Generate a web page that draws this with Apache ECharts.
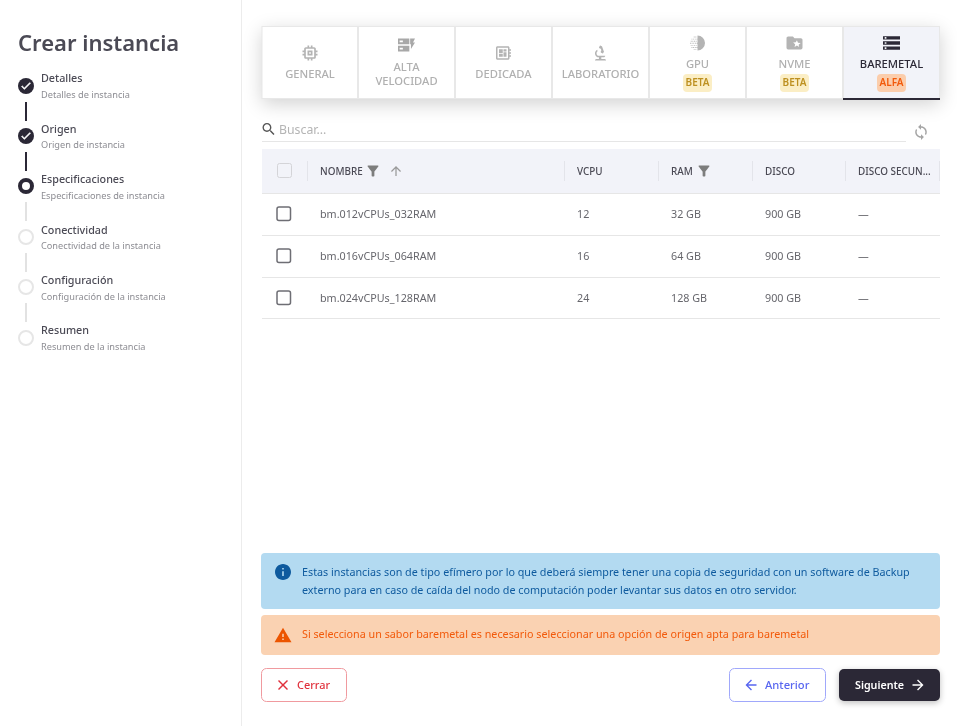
<!DOCTYPE html>
<html lang="es">
<head>
<meta charset="UTF-8">
<title>Crear instancia</title>
<script src="https://cdn.jsdelivr.net/npm/echarts@6/dist/echarts.min.js"></script>
<style>
html,body{margin:0;padding:0;background:#fff}
#main{width:957px;height:726px}
</style>
</head>
<body>
<div id="main"></div>
<script>
var stepTitles = ['Detalles', 'Origen', 'Especificaciones', 'Conectividad', 'Configuración', 'Resumen'];
var stepSubs = ['Detalles de instancia', 'Origen de instancia', 'Especificaciones de instancia', 'Conectividad de la instancia', 'Configuración de la instancia', 'Resumen de la instancia'];
var stepStates = ['done', 'done', 'current', 'todo', 'todo', 'todo'];
var tabLabels = [['GENERAL'], ['ALTA', 'VELOCIDAD'], ['DEDICADA'], ['LABORATORIO'], ['GPU'], ['NVME'], ['BAREMETAL']];
var tabBadges = ['', '', '', '', 'BETA', 'BETA', 'ALFA'];
var columns = ['NOMBRE', 'VCPU', 'RAM', 'DISCO', 'DISCO SECUN...'];
var flavors = ['bm.012vCPUs_032RAM', 'bm.016vCPUs_064RAM', 'bm.024vCPUs_128RAM'];
var vcpus = ['12', '16', '24'];
var rams = ['32 GB', '64 GB', '128 GB'];
var discos = ['900 GB', '900 GB', '900 GB'];
var secundarios = ['—', '—', '—'];
var infoLines = ['Estas instancias son de tipo efímero por lo que deberá siempre tener una copia de seguridad con un software de Backup', 'externo para en caso de caída del nodo de computación poder levantar sus datos en otro servidor.'];
var warnText = 'Si selecciona un sabor baremetal es necesario seleccionar una opción de origen apta para baremetal';

var FONT = '"Noto Sans"';
var DARK = '#2b2836';

var P = {
    check: 'M9 16.17L4.83 12l-1.42 1.41L9 19 21 7l-1.41-1.41z',
    chip: 'M15 9H9v6h6V9zm-2 4h-2v-2h2v2zm8-2V9h-2V7c0-1.1-.9-2-2-2h-2V3h-2v2h-2V3H9v2H7c-1.1 0-2 .9-2 2v2H3v2h2v2H3v2h2v2c0 1.1.9 2 2 2h2v2h2v-2h2v2h2v-2h2c1.1 0 2-.9 2-2v-2h2v-2h-2v-2h2zm-4 6H7V7h10v10z',
    fast: 'M2 4h14v7H2z M4 6.5v2h4v-2z M2 13h14v7H2z M4 15.5v2h4v-2z M17 4h6l-2.5 5h2.5l-5 8v-6h-1z',
    board: 'M22 9V7h-2V5c0-1.1-.9-2-2-2H4c-1.1 0-2 .9-2 2v14c0 1.1.9 2 2 2h14c1.1 0 2-.9 2-2v-2h2v-2h-2v-2h2v-2h-2V9h2zm-4 10H4V5h14v14zM6 13h5v4H6zm6-6h4v3h-4zM6 7h5v5H6zm6 4h4v6h-4z',
    lab: 'M7 19c-1.1 0-2 .9-2 2h14c0-1.1-.9-2-2-2h-4v-2h3c1.1 0 2-.9 2-2h-8c-1.66 0-3-1.34-3-3 0-1.09.59-2.04 1.46-2.56C8.17 9.03 8 8.54 8 8c0-.21.04-.42.09-.62C6.28 8.13 5 9.92 5 12c0 2.76 2.24 5 5 5v2H7z M10.56 5.51C11.91 5.54 13 6.64 13 8c0 .75-.33 1.41-.85 1.87l.59 1.62.94-.34.34.94 1.88-.68-.34-.94.94-.34-2.74-7.52-.94.34-.34-.94-1.88.68.34.94-.94.35.56 1.53z',
    folder: 'M20 6h-8l-2-2H4c-1.1 0-1.99.9-1.99 2L2 18c0 1.1.9 2 2 2h16c1.1 0 2-.9 2-2V8c0-1.1-.9-2-2-2zm-2.06 11L15 15.28 12.06 17l.78-3.33-2.59-2.24 3.41-.29L15 8.5l1.34 3.13 3.41.29-2.59 2.24.78 3.34z',
    storage: 'M2 20h20v-4H2v4zm2-3h2v2H4v-2zM2 4v4h20V4H2zm4 3H4V5h2v2zm-4 7h20v-4H2v4zm2-3h2v2H4v-2z',
    search: 'M15.5 14h-.79l-.28-.27C15.41 12.59 16 11.11 16 9.5 16 5.91 13.09 3 9.5 3S3 5.91 3 9.5 5.91 16 9.5 16c1.61 0 3.09-.59 4.23-1.57l.27.28v.79l5 4.99L20.49 19l-4.99-5zm-6 0C7.01 14 5 11.99 5 9.5S7.01 5 9.5 5 14 7.01 14 9.5 11.99 14 9.5 14z',
    filter: 'M4.25 5.61C6.27 8.2 10 13 10 13v6c0 .55.45 1 1 1h2c.55 0 1-.45 1-1v-6s3.72-4.8 5.74-7.39c.51-.66.04-1.61-.79-1.61H5.04c-.83 0-1.3.95-.79 1.61z',
    up: 'M4 12l1.41 1.41L11 7.83V20h2V7.83l5.58 5.59L20 12l-8-8-8 8z',
    back: 'M20 11H7.83l5.59-5.59L12 4l-8 8 8 8 1.41-1.41L7.83 13H20v-2z',
    forward: 'M12 4l-1.41 1.41L16.17 11H4v2h12.17l-5.58 5.59L12 20l8-8z',
    close: 'M19 6.41L17.59 5 12 10.59 6.41 5 5 6.41 10.59 12 5 17.59 6.41 19 12 13.41 17.59 19 19 17.59 13.41 12z',
    info: 'M12 2C6.48 2 2 6.48 2 12s4.48 10 10 10 10-4.48 10-10S17.52 2 12 2zm1 15h-2v-6h2v6zm0-8h-2V7h2v2z',
    warn: 'M1 21h22L12 2 1 21zm12-3h-2v-2h2v2zm0-4h-2v-4h2v4z',
    sync: 'M12 4V1L8 5l4 4V6c3.31 0 6 2.69 6 6 0 1.01-.25 1.97-.7 2.8l1.46 1.46C19.54 15.03 20 13.57 20 12c0-4.42-3.58-8-8-8zm0 14c-3.31 0-6-2.69-6-6 0-1.01.25-1.97.7-2.8L5.24 7.74C4.46 8.97 4 10.43 4 12c0 4.42 3.58 8 8 8v3l4-4-4-4v3z'
};

// media luna del icono GPU con puntitos a la izquierda
function gpuPath() {
    var d = 'M12 2a10 10 0 0 1 0 20z';
    var rows = [7, 4, 3, 2, 3, 4, 7];
    for (var r = 0; r < rows.length; r++) {
        for (var x = rows[r]; x < 11; x += 2.2) {
            var y = 3.4 + r * 2.8;
            d += ' M' + x + ' ' + y + 'h1.2v1.2h-1.2z';
        }
    }
    return d;
}

var g = [];
var icons = [];

function txt(x, y, s, size, color, weight, align) {
    g.push({ type: 'text', x: x, y: y + 1, silent: true, style: {
        text: s, font: (weight || 400) + ' ' + size + 'px ' + FONT, fill: color,
        textAlign: align || 'left', textVerticalAlign: 'middle'
    }});
}
function box(x, y, w, h, fill, stroke, r, extra) {
    var style = { fill: fill || 'none', stroke: stroke || 'none', lineWidth: stroke ? 1 : 0 };
    for (var k in (extra || {})) style[k] = extra[k];
    g.push({ type: 'rect', silent: true, shape: { x: x, y: y, width: w, height: h, r: r || 0 }, style: style });
}
// los iconos van en una serie custom porque graphic no acepta pathData
function icon(d, cx, cy, size, color, heavy) {
    icons.push({ d: d, cx: cx, cy: cy, size: size, color: color, heavy: heavy || 0 });
}

// ---- panel izquierdo
box(241, 0, 1, 726, '#ececec');
txt(18, 43.5, 'Crear instancia', 22, '#4b4a55', 600);

var stepY = [86, 136, 186, 237, 287, 338];
var titleY = [78, 129, 179, 230, 280, 330];
var subY = [95, 145, 196, 246, 297, 347];
var lineTop = [102, 152, 202, 253, 303];
for (var i = 0; i < stepTitles.length; i++) {
    if (i < lineTop.length) {
        box(25, lineTop[i], 2, 19, i < 2 ? DARK : '#e2e2e2');
    }
    var st = stepStates[i];
    if (st === 'done') {
        g.push({ type: 'circle', silent: true, shape: { cx: 26, cy: stepY[i], r: 8 }, style: { fill: DARK } });
        icon(P.check, 26, stepY[i], 9, '#fff', 0.6);
    } else if (st === 'current') {
        g.push({ type: 'circle', silent: true, shape: { cx: 26, cy: stepY[i], r: 6 }, style: { fill: '#fff', stroke: DARK, lineWidth: 4 } });
    } else {
        g.push({ type: 'circle', silent: true, shape: { cx: 26, cy: stepY[i], r: 7 }, style: { fill: '#fff', stroke: '#e6e6e6', lineWidth: 2 } });
    }
    txt(41, titleY[i], stepTitles[i], 10.75, '#4b4a55', 500);
    txt(41, subY[i] - 0.5, stepSubs[i], 9.2, '#8d8d93');
}

// ---- pestañas
var tabX = [262, 358, 455, 552, 649, 746, 843, 940];
var tabIcons = [P.chip, P.fast, P.board, P.lab, gpuPath(), P.folder, P.storage];
var iconSize = [15, 17, 15, 15, 15, 16, 17];
box(262, 26, 678, 73, '#fff', null, 0, { shadowBlur: 18, shadowColor: 'rgba(0,0,0,0.18)', shadowOffsetY: 5 });
box(843, 26, 97, 73, '#f2f3f9');
box(262, 26, 678, 1, '#e8e8e8');
box(261.5, 26, 1, 73, '#e8e8e8');
box(939, 26, 1, 73, '#e8e8e8');
box(262, 98, 581, 1, '#e8e8e8');
for (var t = 0; t < tabLabels.length; t++) {
    if (t > 0) box(tabX[t] - 1, 26, 2, 73, '#e8e8e8');
    var cx = (tabX[t] + tabX[t + 1]) / 2;
    var active = t === tabLabels.length - 1;
    var col = active ? DARK : '#b0b0b0';
    var lbl = tabLabels[t];
    if (tabBadges[t]) {
        icon(tabIcons[t], cx, 43, iconSize[t], active ? DARK : '#b4b4b4');
        txt(cx, 64, lbl[0], 11.2, col, 500, 'center');
        var alfa = tabBadges[t] === 'ALFA';
        box(cx - 14.5, 74, 29, 18, alfa ? '#fbcdac' : '#fbeec5', null, 4);
        txt(cx, 82.5, tabBadges[t], 10, alfa ? '#f2590a' : '#bd9020', 600, 'center');
    } else if (lbl.length === 2) {
        icon(tabIcons[t], cx, 45, iconSize[t], '#a8a8a8');
        txt(cx, 67, lbl[0], 11.2, col, 500, 'center');
        txt(cx, 81, lbl[1], 11.2, col, 500, 'center');
    } else {
        icon(tabIcons[t], cx, 53, iconSize[t], '#b4b4b4');
        txt(cx, 74, lbl[0], 11.2, col, 500, 'center');
    }
}
box(843, 98, 97, 2, DARK);

// ---- buscador
icon(P.search, 268.5, 129, 12, '#555');
txt(279, 129, 'Buscar...', 12.3, '#b4b4b4');
box(262, 141, 644, 1, '#e6e6e6');
icon(P.sync, 921, 132, 16, '#a5a5a5');

// ---- tabla
var colText = [320, 577, 671, 765, 858];
var colSep = [307, 564, 658, 752, 845, 939];
var rowY = [214, 256, 298];
var rowLine = [235, 277, 318];
box(262, 149, 678, 44, '#f2f3f9');
box(262, 193, 678, 1, '#e6e6e6');
box(277.5, 163.5, 14, 14, '#f2f3f9', '#d4d4d8', 2);
for (var c = 0; c < columns.length; c++) {
    txt(colText[c], 171, columns[c], 9.9, '#4b4a55', 500);
}
for (var s = 0; s < colSep.length; s++) {
    box(colSep[s], 161, 1, 20, '#e3e4ea');
}
icon(P.filter, 373, 171, 11, '#7d7d7d');
icon(P.up, 396, 171, 10, '#9a9a9a');
icon(P.filter, 704, 171, 11, '#7d7d7d');
var cellCols = [flavors, vcpus, rams, discos, secundarios];
for (var r = 0; r < flavors.length; r++) {
    box(277, rowY[r] - 7, 13.5, 13.5, '#fff', '#6e6e74', 2, { lineWidth: 1.5 });
    for (var k = 0; k < cellCols.length; k++) {
        txt(colText[k], rowY[r], cellCols[k][r], 10.75, '#66666c');
    }
    box(262, rowLine[r], 678, 1, '#e6e6e6');
}

// ---- avisos
box(261, 553, 679, 56, '#b3daf1', null, 4);
icon(P.info, 283, 572, 16, '#0e5a9e');
txt(302, 572, infoLines[0], 10.75, '#0e5a9e');
txt(302, 590, infoLines[1], 10.75, '#0e5a9e');
box(261, 615, 679, 40, '#fad2b2', null, 4);
icon(P.warn, 283, 635, 17, '#ec5500');
txt(302, 633.5, warnText, 10.75, '#f2590a');

// ---- botones
box(261.5, 668.5, 85, 33, '#fff', '#f09a9f', 5);
icon(P.close, 283, 685, 10, '#e0313c');
txt(297, 685, 'Cerrar', 10.9, '#e0313c', 500);
box(729.5, 668.5, 96, 33, '#fff', '#a0a8fb', 5);
icon(P.back, 751, 685, 11, '#5866f0');
txt(765, 685, 'Anterior', 11.2, '#5866f0', 500);
box(839, 669, 101, 32, DARK, null, 5, { shadowBlur: 6, shadowColor: 'rgba(0,0,0,0.25)', shadowOffsetY: 2 });
txt(855, 685, 'Siguiente', 10.7, '#fff', 600);
icon(P.forward, 918, 685, 11, '#fff');

var chart = echarts.init(document.getElementById('main'), null, { renderer: 'canvas' });
chart.setOption({
    animation: false,
    backgroundColor: '#fff',
    graphic: { elements: g },
    series: [{
        type: 'custom',
        coordinateSystem: 'none',
        silent: true,
        data: icons.map(function (ic, idx) { return [idx]; }),
        renderItem: function (params) {
            var ic = icons[params.dataIndex];
            return {
                type: 'path',
                shape: { pathData: ic.d, layout: 'center', x: ic.cx - ic.size / 2, y: ic.cy - ic.size / 2, width: ic.size, height: ic.size },
                style: { fill: ic.color, stroke: ic.heavy ? ic.color : null, lineWidth: ic.heavy }
            };
        }
    }]
});
</script>
</body>
</html>
